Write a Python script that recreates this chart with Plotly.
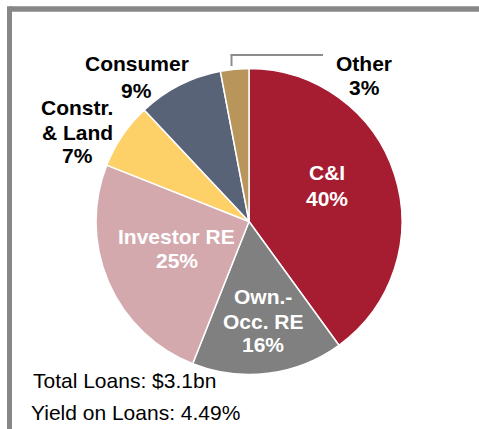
import plotly.graph_objects as go

# ---- data ----
categories = ["C&I", "Own.-<br>Occ. RE", "Investor RE", "Constr.<br>& Land", "Consumer", "Other"]
shares = [40, 16, 25, 7, 9, 3]
colors = ["#A61C30", "#808080", "#D4A9AE", "#FDD068", "#586378", "#B8955B"]
label_colors = ["white", "white", "white", "black", "black", "black"]
footnotes = ["Total Loans: $3.1bn", "Yield on Loans: 4.49%"]

W, H = 479, 429
FONT = "Liberation Sans, Arial, sans-serif"

def px(x):
    return x / W

def py(y):
    return 1 - y / H

# pie geometry (pixels)
cx, cy, r = 249, 221.5, 153

fig = go.Figure(go.Pie(
    values=shares,
    labels=[c.replace("<br>", " ") for c in categories],
    marker=dict(colors=colors, line=dict(color="white", width=1.5)),
    sort=False,
    direction="clockwise",
    rotation=0,
    textinfo="none",
    hoverinfo="label+percent",
    showlegend=False,
    domain=dict(x=[px(cx - r), px(cx + r)], y=[py(cy + r), py(cy - r)]),
))

# label layout: x centre and y centre of each text line (pixels)
label_x = [327, 263, 176.5, 77, 136.5, 364]
label_lines_y = [
    [172.5, 198],
    [296, 321.5, 344.5],
    [237, 260.5],
    [107.5, 132, 155.5],
    [63.7, 90],
    [63.7, 87.5],
]

annotations = []
for cat, val, col, x, ys in zip(categories, shares, label_colors, label_x, label_lines_y):
    lines = cat.split("<br>") + [f"{val}%"]
    for line, y in zip(lines, ys):
        annotations.append(dict(
            x=px(x), y=py(y), xref="paper", yref="paper",
            text=f"<b>{line}</b>", showarrow=False,
            font=dict(family=FONT, size=21, color=col),
            xanchor="center", yanchor="middle", align="center",
        ))

for txt, (x, y) in zip(footnotes, [(31, 380.5), (28.5, 412.5)]):
    annotations.append(dict(
        x=px(x), y=py(y), xref="paper", yref="paper",
        text=txt, showarrow=False,
        font=dict(family=FONT, size=21, color="black"),
        xanchor="left", yanchor="middle", align="left",
    ))

shapes = [
    # frame (top and left edges)
    dict(type="line", xref="paper", yref="paper", x0=px(9.5), x1=1.0, y0=py(9), y1=py(9),
         line=dict(color="#878787", width=5.5)),
    dict(type="line", xref="paper", yref="paper", x0=px(9.5), x1=px(9.5), y0=py(6.3), y1=0,
         line=dict(color="#878787", width=5)),
    # leader line for "Other"
    dict(type="line", xref="paper", yref="paper", x0=px(231.5), x1=px(231.5), y0=py(55), y1=py(66),
         line=dict(color="#8C8C8C", width=2)),
    dict(type="line", xref="paper", yref="paper", x0=px(230.5), x1=px(323), y0=py(55), y1=py(55),
         line=dict(color="#8C8C8C", width=2)),
]

fig.update_layout(
    width=W, height=H,
    margin=dict(l=0, r=0, t=0, b=0),
    paper_bgcolor="white", plot_bgcolor="white",
    annotations=annotations, shapes=shapes,
    font=dict(family=FONT),
)

fig.write_html("out.html", config={"displayModeBar": False},
               post_script="document.body.style.margin='0px';")
